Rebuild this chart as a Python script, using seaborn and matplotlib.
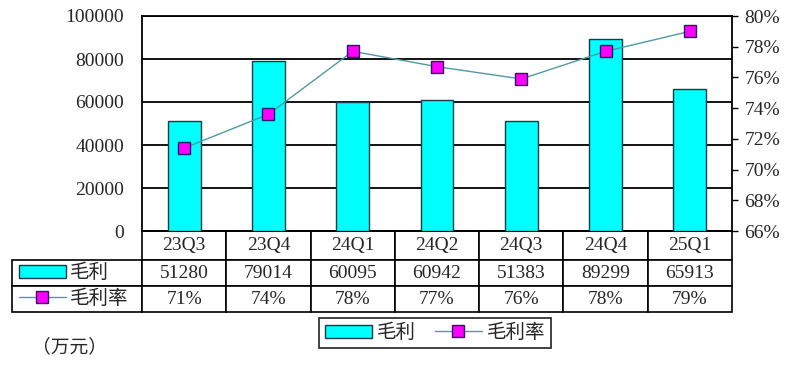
import matplotlib
matplotlib.use("Agg")
import matplotlib.pyplot as plt
import numpy as np
import seaborn as sns

quarters = ["23Q3", "23Q4", "24Q1", "24Q2", "24Q3", "24Q4", "25Q1"]
gross_profit = [51280, 79014, 60095, 60942, 51383, 89299, 65913]
gross_margin = [71.4, 73.6, 77.7, 76.7, 75.9, 77.7, 79.0]
series_names = ["毛利", "毛利率"]
unit_label = "（万元）"

sns.set_style("white")
plt.rcParams["font.family"] = ["Liberation Serif", "Noto Sans CJK SC", "DejaVu Sans"]
plt.rcParams["font.size"] = 14

fig = plt.figure(figsize=(8, 3.76), dpi=100)
ax = fig.add_axes([142 / 800, 1 - 231 / 376, 590 / 800, 215 / 376])

sns.barplot(x=quarters, y=gross_profit, color="#00FFFF", edgecolor="#1c3a44",
            linewidth=1, width=0.39, saturation=1, ax=ax, zorder=3)
ax.set_ylim(0, 100000)
ax.set_yticks(np.arange(0, 100001, 20000))
ax.yaxis.grid(True, color="black", linewidth=1.3)
ax.set_axisbelow(True)
ax.tick_params(axis="y", length=0, pad=13)
ax.tick_params(axis="x", length=0, labelbottom=False)
ax.set_xlabel("")
ax.set_ylabel("")
for s in ax.spines.values():
    s.set_visible(True)
    s.set_color("black")
    s.set_linewidth(1.3)

ax2 = ax.twinx()
sns.lineplot(x=np.arange(len(quarters)), y=gross_margin, ax=ax2, color="#4f9aa6",
             linewidth=1, marker="s", markersize=9, markerfacecolor="#FF00FF",
             markeredgecolor="#202060", markeredgewidth=1)
ax2.set_ylim(66, 80)
ax2.set_yticks(np.arange(66, 81, 2))
ax2.set_yticklabels([f"{v}%" for v in range(66, 81, 2)])
ax2.tick_params(axis="y", length=4, width=1, pad=5, direction="out", color="black")
ax2.set_ylabel("")
ax2.grid(False)
for s in ax2.spines.values():
    s.set_visible(False)
ax.set_xlim(-0.5, len(quarters) - 0.5)

# data table below the plot; first column holds the row legends
cell_text = [[""] + [str(v) for v in gross_profit],
             [""] + [f"{v:.0f}%" for v in gross_margin]]
label_w = 130 / 720
col_w = (1 - label_w) / len(quarters)
tbl = ax.table(cellText=cell_text, colLabels=[""] + quarters, cellLoc="center",
               colWidths=[label_w] + [col_w] * len(quarters),
               bbox=[-130 / 590, -81 / 215, 720 / 590, 81 / 215])
tbl.auto_set_font_size(False)
tbl.set_fontsize(14)
for (r, c), cell in tbl.get_celld().items():
    cell.set_edgecolor("black")
    cell.set_linewidth(1.2)
    cell.set_height(29 if r == 0 else 26)
tbl[(0, 0)].visible_edges = "open"

bar_handle = ax.patches[0]
line_handle = ax2.lines[0]
leg_kw = dict(frameon=False, handlelength=2.4, handletextpad=0.2, fontsize=14,
              loc="center left", borderaxespad=0, borderpad=0)
fig.legend([bar_handle], [series_names[0]], bbox_to_anchor=(19 / 800, 1 - 273 / 376), **leg_kw)
fig.legend([line_handle], [series_names[1]], bbox_to_anchor=(19 / 800, 1 - 299 / 376), **leg_kw)

leg = fig.legend([bar_handle, line_handle], series_names, ncol=2, loc="center",
                 bbox_to_anchor=(435 / 800, 1 - 333 / 376), frameon=True, fancybox=False,
                 handlelength=2.4, handletextpad=0.25, columnspacing=1.0,
                 borderpad=0.3, fontsize=14)
leg.get_frame().set_edgecolor("black")
leg.get_frame().set_linewidth(1.3)

fig.text(32 / 800, 1 - 347 / 376, unit_label, fontsize=13.5, va="center", ha="left")

fig.savefig("out.png", dpi=100)
